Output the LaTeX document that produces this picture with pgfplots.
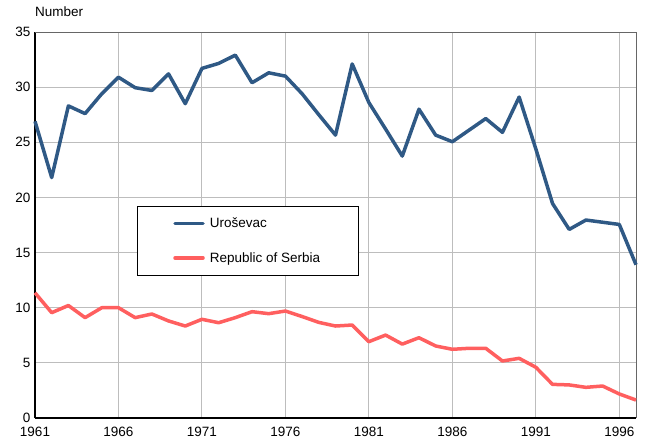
\documentclass[border=0pt]{standalone}
\usepackage{pgfplots}
\pgfplotsset{compat=1.18}
\usepackage{fontspec}
\setmainfont{Liberation Sans}
\definecolor{uroblue}{HTML}{2F5985}
\definecolor{serbred}{HTML}{FF5F5F}
\definecolor{gridgray}{HTML}{BDBDBD}
\begin{document}
\begin{tikzpicture}
\useasboundingbox (-35pt,-21pt) rectangle (612pt,418pt);
\begin{axis}[
  at={(0pt,0pt)}, anchor=south west,
  scale only axis, width=601pt, height=386pt,
  xmin=1961, xmax=1997, ymin=0, ymax=35,
  xtick={1961,1966,...,1996}, ytick={0,5,...,35},
  x tick label style={/pgf/number format/1000 sep={}},
  /pgf/number format/assume math mode=true,
  tick style={draw=none},
  ticklabel style={font=\fontsize{13.5}{15}\selectfont},
  xticklabel style={yshift=-6pt},
  yticklabel style={xshift=-1pt},
  grid=major, major grid style={gridgray, line width=1pt},
  axis x line*=bottom, axis y line*=left,
  axis line style={black, line width=1.3pt, -},
  legend style={at={(0.1695,0.549)}, anchor=north west, draw=black, line width=0.8pt,
    inner xsep=36pt, inner ysep=9.5pt, row sep=19pt,
    font=\fontsize{13.5}{15}\selectfont, cells={anchor=west},
    /tikz/every even column/.append style={column sep=0pt}},
  legend image code/.code={\draw[#1, line width=3.5pt, line cap=round] (0pt,0pt) -- (28pt,0pt);},
  clip=false,
]
\draw[gray!80!black, line width=1pt] (rel axis cs:0,1) -- (rel axis cs:1,1) -- (rel axis cs:1,0);
\addplot[uroblue, line width=3.5pt, line join=round] coordinates {
(1961,26.9) (1962,21.8) (1963,28.3) (1964,27.6) (1965,29.4) (1966,30.9)
(1967,29.95) (1968,29.7) (1969,31.2) (1970,28.5) (1971,31.7) (1972,32.15)
(1973,32.9) (1974,30.4) (1975,31.3) (1976,31.0) (1977,29.4) (1978,27.5)
(1979,25.65) (1980,32.1) (1981,28.6) (1982,26.2) (1983,23.75) (1984,28.0)
(1985,25.65) (1986,25.05) (1987,26.1) (1988,27.15) (1989,25.9) (1990,29.1)
(1991,24.4) (1992,19.45) (1993,17.1) (1994,17.95) (1995,17.75) (1996,17.55)
(1997,13.9)
};
\addlegendentry{\hspace{3pt}Uroševac}
\addplot[serbred, line width=3.5pt, line join=round] coordinates {
(1961,11.35) (1962,9.55) (1963,10.2) (1964,9.1) (1965,10.0) (1966,10.0)
(1967,9.1) (1968,9.43) (1969,8.8) (1970,8.34) (1971,8.95) (1972,8.64)
(1973,9.1) (1974,9.64) (1975,9.46) (1976,9.7) (1977,9.2) (1978,8.67)
(1979,8.34) (1980,8.43) (1981,6.92) (1982,7.52) (1983,6.7) (1984,7.28)
(1985,6.53) (1986,6.23) (1987,6.32) (1988,6.32) (1989,5.17) (1990,5.41)
(1991,4.6) (1992,3.05) (1993,3.0) (1994,2.78) (1995,2.9) (1996,2.18)
(1997,1.63)
};
\addlegendentry{\hspace{3pt}Republic of Serbia}
\node[anchor=base west, font=\fontsize{13.5}{15}\selectfont, inner sep=0pt] at ([yshift=15pt]rel axis cs:0,1) {Number};
\end{axis}
\end{tikzpicture}
\end{document}
